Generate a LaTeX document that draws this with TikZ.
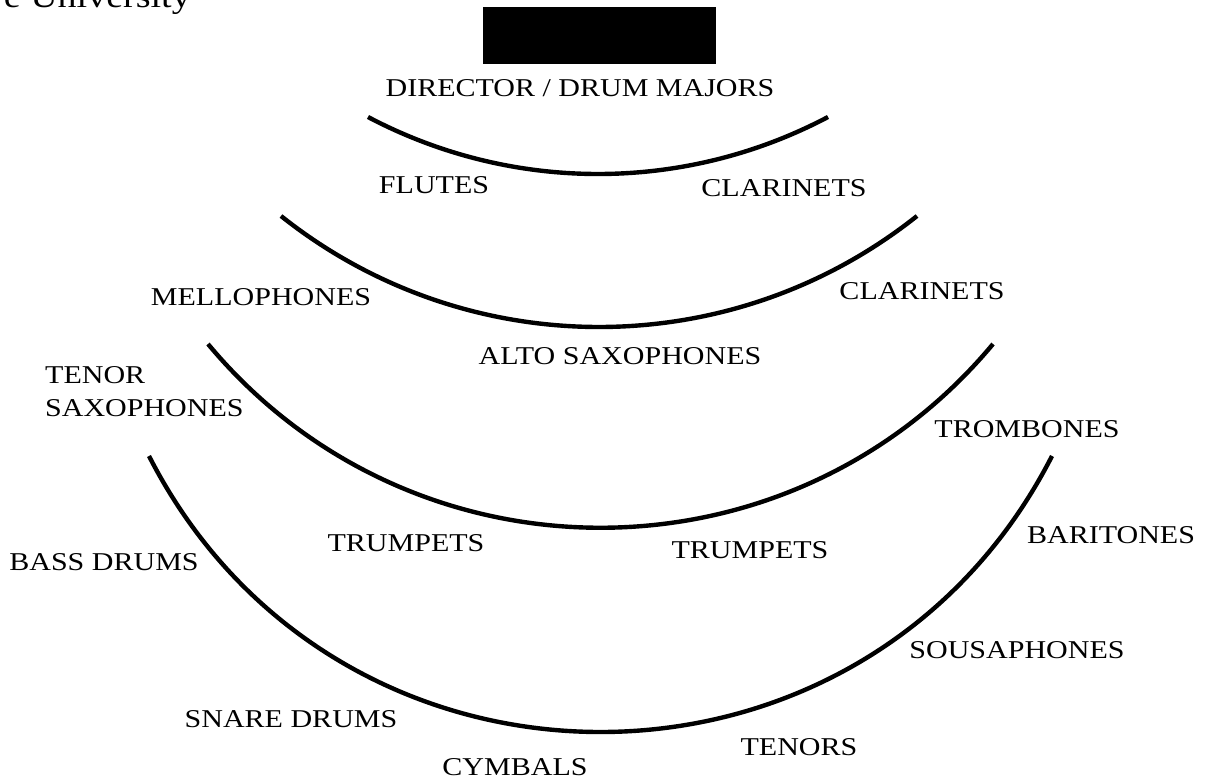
\documentclass[tikz,border=0pt]{standalone}
\usepackage{fontspec}
\setmainfont[FakeStretch=1.17]{Liberation Serif}
\usepackage{tikz}
\usetikzlibrary{positioning}

\begin{document}
\begin{tikzpicture}[x=0.02cm, y=-0.02cm, line width=2.5pt,
		lbl/.style={inner sep=0pt, anchor=base, font=\fontsize{14.6}{18.8}\selectfont}]
		\useasboundingbox (0,0) rectangle (1209,783);
		
		\node [lbl, anchor=base east, font=\fontsize{18.5}{22}\selectfont] (uni) at (193,8) {e University};
		\node [fill=black, inner sep=0pt, minimum width=4.66cm, minimum height=1.14cm] (podium) at (599.5,35.5) {};
		\node [lbl] (dir) at (580,97) {DIRECTOR / DRUM MAJORS};
		
		% rows of the band
		\draw (368,117) .. controls (512,193) and (684,193) .. (828,117);
		\draw (281,216) .. controls (467,364) and (731,364) .. (917,216);
		\draw (208,344) .. controls (412,589) and (789,589) .. (993,344);
		\draw (149,456) .. controls (337,824) and (864,824) .. (1052,456);
		
		\node [lbl] (flutes) at (434,194) {FLUTES};
		\node [lbl] (clar1) at (784,197) {CLARINETS};
		\node [lbl] (mello) at (261,306) {MELLOPHONES};
		\node [lbl] (clar2) at (922,300) {CLARINETS};
		\node [lbl] (alto) at (620,365) {ALTO SAXOPHONES};
		\node [lbl, anchor=west, align=left] (tenor) at (43,391.5) {TENOR\\SAXOPHONES};
		\node [lbl] (tromb) at (1027,437) {TROMBONES};
		\node [lbl] (trpl) at (406,551) {TRUMPETS};
		\node [lbl] (trpr) at (750,558) {TRUMPETS};
		\node [lbl] (bass) at (104,570) {BASS DRUMS};
		\node [lbl] (bari) at (1111,543) {BARITONES};
		\node [lbl] (sousa) at (1017,658) {SOUSAPHONES};
		\node [lbl] (snare) at (291,727) {SNARE DRUMS};
		\node [lbl] (tenors) at (799,755) {TENORS};
		\node [lbl] (cymb) at (515,775) {CYMBALS};
	\end{tikzpicture}
\end{document}
